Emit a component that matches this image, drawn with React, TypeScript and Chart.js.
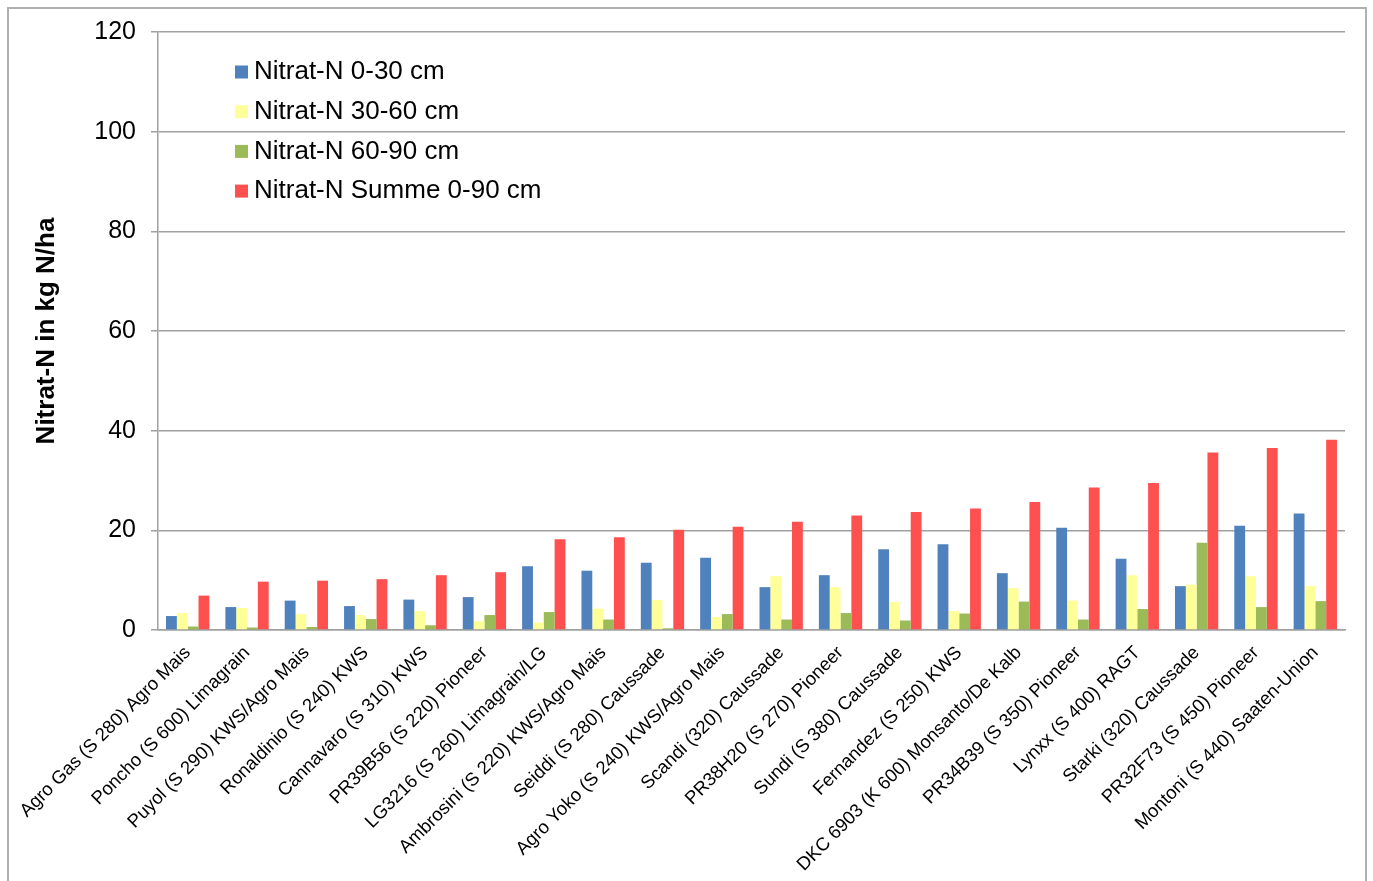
import React, { useEffect, useRef } from "react";
import { Chart, registerables } from "chart.js";

Chart.register(...registerables);

const categories = [
  "Agro Gas (S 280) Agro Mais",
  "Poncho (S 600) Limagrain",
  "Puyol (S 290) KWS/Agro Mais",
  "Ronaldinio (S 240) KWS",
  "Cannavaro (S 310) KWS",
  "PR39B56 (S 220) Pioneer",
  "LG3216 (S 260) Limagrain/LG",
  "Ambrosini (S 220) KWS/Agro Mais",
  "Seiddi (S 280) Caussade",
  "Agro Yoko (S 240) KWS/Agro Mais",
  "Scandi (320) Caussade",
  "PR38H20 (S 270) Pioneer",
  "Sundi (S 380) Caussade",
  "Fernandez (S 250) KWS",
  "DKC 6903 (K 600) Monsanto/De Kalb",
  "PR34B39 (S 350) Pioneer",
  "Lynxx (S 400) RAGT",
  "Starki (320) Caussade",
  "PR32F73 (S 450) Pioneer",
  "Montoni (S 440) Saaten-Union",
];

const nitrat0to30 = [2.8, 4.6, 5.9, 4.8, 6.1, 6.6, 12.8, 11.9, 13.5, 14.5, 8.6, 11.0, 16.2, 17.2, 11.4, 20.5, 14.3, 8.8, 20.9, 23.4];
const nitrat30to60 = [3.4, 4.4, 3.2, 3.0, 3.8, 1.8, 1.5, 4.3, 6.0, 2.6, 10.8, 8.6, 5.6, 3.8, 8.4, 5.9, 11.0, 9.1, 10.8, 8.8];
const nitrat60to90 = [0.7, 0.5, 0.6, 2.2, 0.95, 3.0, 3.6, 2.1, 0.35, 3.2, 2.1, 3.4, 1.9, 3.3, 5.7, 2.1, 4.2, 17.5, 4.6, 5.8];
const nitratSumme = [6.9, 9.7, 9.9, 10.2, 11.0, 11.6, 18.2, 18.6, 20.1, 20.7, 21.7, 23.0, 23.7, 24.4, 25.7, 28.6, 29.5, 35.6, 36.5, 38.2];

const seriesLabels = [
  "Nitrat-N 0-30 cm",
  "Nitrat-N 30-60 cm",
  "Nitrat-N 60-90 cm",
  "Nitrat-N Summe 0-90 cm",
];
const seriesColors = ["#4F81BD", "#FFFF99", "#9BBB59", "#FF5050"];

const yTicks = [0, 20, 40, 60, 80, 100, 120];
const yTitle = "Nitrat-N in kg N/ha";

const FONT = "'Liberation Sans', Arial, sans-serif";

const insideLegend = {
  id: "insideLegend",
  afterDraw(chart: any) {
    const ctx = chart.ctx;
    ctx.save();
    ctx.font = `26px ${FONT}`;
    ctx.textBaseline = "middle";
    ctx.textAlign = "left";
    chart.data.datasets.forEach((ds: any, i: number) => {
      const cy = 72 + i * 39.7;
      ctx.fillStyle = ds.backgroundColor;
      ctx.fillRect(235, cy - 6.5, 13, 13);
      ctx.fillStyle = "#000";
      ctx.fillText(ds.label, 254, cy);
    });
    ctx.restore();
  },
};

export default function App() {
  const ref = useRef<HTMLCanvasElement | null>(null);

  useEffect(() => {
    if (!ref.current) return;
    const data = [nitrat0to30, nitrat30to60, nitrat60to90, nitratSumme];
    const chart = new Chart(ref.current, {
      type: "bar",
      data: {
        labels: categories,
        datasets: data.map((d, i) => ({
          label: seriesLabels[i],
          data: d,
          backgroundColor: seriesColors[i],
          borderWidth: 0,
          barPercentage: 1,
          categoryPercentage: 0.73,
        })),
      },
      options: {
        responsive: false,
        animation: false,
        layout: { padding: { left: 28, right: 28, top: 32, bottom: 0 } },
        plugins: {
          legend: { display: false },
          tooltip: { enabled: false },
        },
        scales: {
          x: {
            grid: { display: false },
            border: { display: true, color: "#a0a0a0", width: 1.5 },
            ticks: {
              color: "#000",
              font: { family: FONT, size: 18.5 },
              minRotation: 45,
              maxRotation: 45,
              autoSkip: false,
              padding: 4,
            },
            afterFit(scale: any) {
              scale.height = 251;
            },
          },
          y: {
            min: 0,
            max: 120,
            afterBuildTicks(scale: any) {
              scale.ticks = yTicks.map((v) => ({ value: v }));
            },
            grid: { color: "#a0a0a0", lineWidth: 1.5, tickLength: 7, drawTicks: true },
            border: { display: true, color: "#a0a0a0", width: 1.5 },
            ticks: {
              color: "#000",
              font: { family: FONT, size: 25 },
              padding: 15,
            },
            title: {
              display: true,
              text: yTitle,
              color: "#000",
              font: { family: FONT, size: 26, weight: "bold" },
              padding: { top: 3, bottom: 4 },
            },
            afterFit(scale: any) {
              scale.width = 130;
            },
          },
        },
      },
      plugins: [insideLegend],
    });
    return () => chart.destroy();
  }, []);

  return (
    <div style={{ position: "absolute", left: 0, top: 0, width: 1373, height: 881, background: "#fff", overflow: "hidden" }}>
      <div
        style={{
          position: "absolute",
          left: 7,
          top: 7,
          width: 1360,
          height: 900,
          border: "2px solid #b0b0b0",
          boxSizing: "border-box",
        }}
      />
      <canvas ref={ref} width={1373} height={881} style={{ position: "absolute", left: 0, top: 0 }} />
    </div>
  );
}
